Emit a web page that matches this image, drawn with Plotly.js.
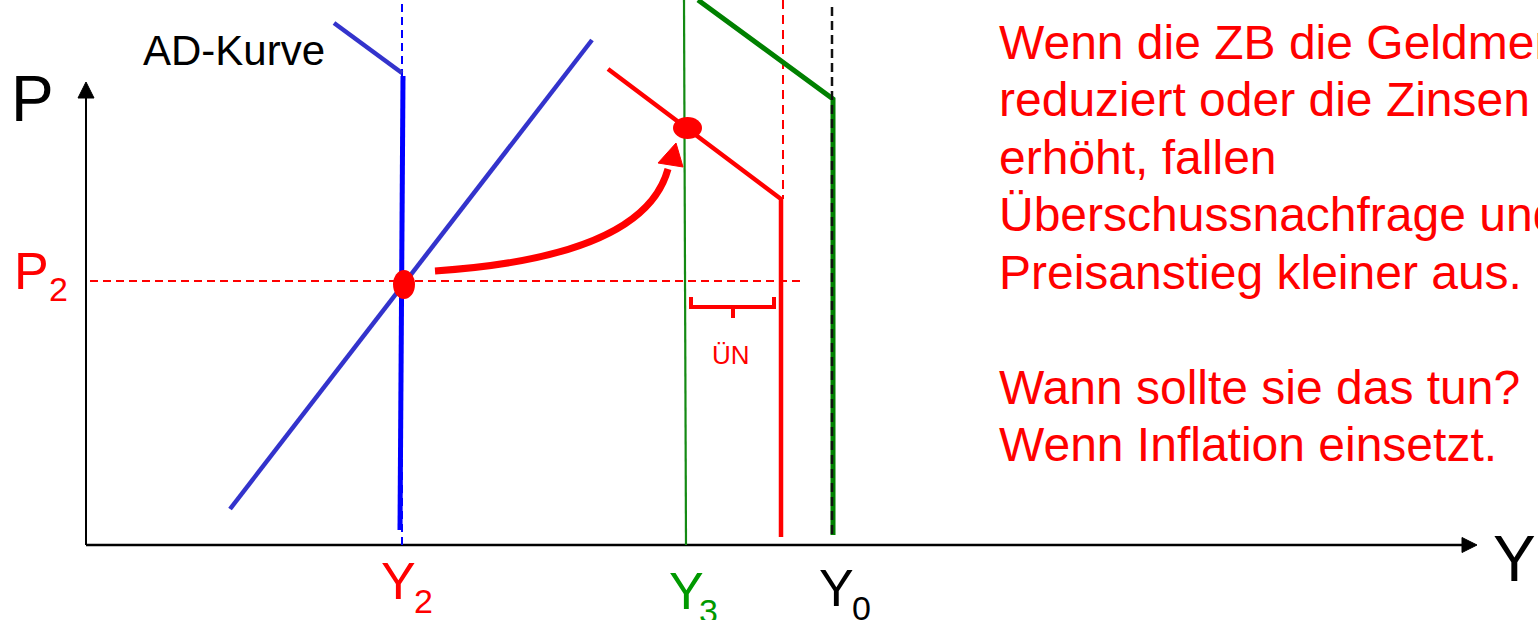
<!DOCTYPE html>
<html>
<head>
<meta charset="utf-8">
<script src="https://cdn.plot.ly/plotly-3.0.1.min.js"></script>
<style>html,body{margin:0;padding:0;background:#fff;}#chart{width:1538px;height:620px;}</style>
</head>
<body>
<div id="chart"></div>
<script>
// Model coordinates: Y (output) to the right, P (price level) upwards, origin at axis corner
const yAxisX = [0, 0],            yAxisP = [0, 447];
const yArrowX = [-8, 8, 0, -8],   yArrowP = [447, 447, 463, 447];
const xAxisX = [0, 1376],         xAxisP = [0, 0];
const xArrowX = [1376, 1376, 1391, 1376], xArrowP = [-7.5, 7.5, 0, -7.5];

const y2DashX = [316, 316],       y2DashP = [0, 545];
const asBlueX = [317, 314],       asBlueP = [469, 15];
const kinkBlueX = [248, 316],     kinkBlueP = [522, 472];
const adBlueX = [144, 506],       adBlueP = [36, 505];

const p2DashX = [4, 719],         p2DashP = [264, 264];

// shift arrow: start, control point, end (quadratic curve)
const shiftCurveX = [349, 558, 582], shiftCurveP = [274, 288, 376];
const shiftHeadX = [572, 590, 597, 572], shiftHeadP = [382, 402, 378, 382];

const adRedX = [522, 695, 695],   adRedP = [476, 346, 8];
const redDashX = [697, 697],      redDashP = [545, 346];

const y3LineX = [598, 600],       y3LineP = [545, 0];
const greenX = [612, 747, 747],   greenP = [545, 446, 10];
const y0DashX = [746, 746],       y0DashP = [538, 7];

const braceX = [605, 605, 688, 688], braceP = [248, 238, 238, 248];
const braceTickX = [647, 647],    braceTickP = [238, 227];

const eqDot2 = [307, 329, 246, 275];   // x0, x1, y0, y1
const eqDot3 = [587, 616, 406, 428];

const textLines = ["Wenn die ZB die Geldmenge", "reduziert oder die Zinsen", "erhöht, fallen",
  "Überschussnachfrage und", "Preisanstieg kleiner aus.", "",
  "Wann sollte sie das tun?", "Wenn Inflation einsetzt."];

const FONT = "Liberation Sans, Arial, Helvetica, sans-serif";
const RED = "#FF0000", BLUE = "#0000FF", SLATE = "#3333CC", GREEN = "#008000";

function line(x, y, color, width, dash) {
  return {x: x, y: y, type: "scatter", mode: "lines", hoverinfo: "skip",
    line: {color: color, width: width, dash: dash || "solid"}};
}
function fillTri(x, y, color) {
  return {x: x, y: y, type: "scatter", mode: "lines", fill: "toself", fillcolor: color,
    line: {color: color, width: 1}, hoverinfo: "skip"};
}

const traces = [
  line(yAxisX, yAxisP, "#000", 2),
  fillTri(yArrowX, yArrowP, "#000"),
  line(xAxisX, xAxisP, "#000", 2.5),
  fillTri(xArrowX, xArrowP, "#000"),
  line(y2DashX, y2DashP, BLUE, 2, "8px,5px"),
  line(kinkBlueX, kinkBlueP, SLATE, 4.5),
  line(asBlueX, asBlueP, BLUE, 5),
  line(adBlueX, adBlueP, SLATE, 4.5),
  line(p2DashX, p2DashP, RED, 1.8, "8px,5px"),
  line(redDashX, redDashP, RED, 2, "9px,6px"),
  line(y3LineX, y3LineP, "#138A13", 2.2),
  line(greenX, greenP, GREEN, 5),
  line(y0DashX, y0DashP, "#111", 2.5, "9px,5px"),
  line(adRedX, adRedP, RED, 4.5),
  fillTri(shiftHeadX, shiftHeadP, RED),
  line(braceX, braceP, RED, 4),
  line(braceTickX, braceTickP, RED, 4)
];

const shapes = [eqDot2, eqDot3].map(d => ({
  type: "circle", xref: "x", yref: "y",
  x0: d[0], x1: d[1], y0: d[2], y1: d[3],
  fillcolor: RED, line: {color: RED, width: 0}, layer: "above"
}));
shapes.push({
  type: "path", xref: "x", yref: "y", layer: "above",
  path: "M " + shiftCurveX[0] + "," + shiftCurveP[0] +
        " Q " + shiftCurveX[1] + "," + shiftCurveP[1] + " " + shiftCurveX[2] + "," + shiftCurveP[2],
  line: {color: RED, width: 7}, fillcolor: "rgba(0,0,0,0)"
});

function ann(text, x, y, size, color, xanchor, yanchor) {
  return {text: text, x: x, y: y, xref: "x", yref: "y", showarrow: false,
    xanchor: xanchor || "left", yanchor: yanchor || "middle", align: "left", borderpad: 0,
    font: {family: FONT, size: size, color: color}};
}

const annotations = [
  ann("P", -76, 446.5, 64, "#000"),
  ann("Y", 1406, -14, 64, "#000"),
  ann("P", -73, 274.5, 52, RED),
  ann("2", -38, 256, 34, RED),
  ann("Y", 294, -36, 52, RED),
  ann("2", 327, -56, 34, RED),
  ann("Y", 582, -46, 52, "#009900"),
  ann("3", 612, -66, 34, "#009900"),
  ann("Y", 732, -43, 52, "#000"),
  ann("0", 765, -63, 34, "#000"),
  ann("AD-Kurve", 56, 495, 42, "#000"),
  ann("ÜN", 645, 190, 26, RED, "center")
];
const textTop = 545 - 42.4, lineStep = 57.5;
textLines.forEach((t, i) => {
  if (t) annotations.push(ann(t, 912, textTop - i * lineStep, 48, RED));
});

const layout = {
  width: 1538, height: 620,
  margin: {l: 0, r: 0, t: 0, b: 0, pad: 0},
  paper_bgcolor: "#fff", plot_bgcolor: "#fff",
  showlegend: false, hovermode: false,
  xaxis: {range: [-86, 1452], visible: false, fixedrange: true},
  yaxis: {range: [-75, 545], visible: false, fixedrange: true},
  shapes: shapes,
  annotations: annotations
};

Plotly.newPlot("chart", traces, layout, {staticPlot: true, displayModeBar: false});
</script>
</body>
</html>
